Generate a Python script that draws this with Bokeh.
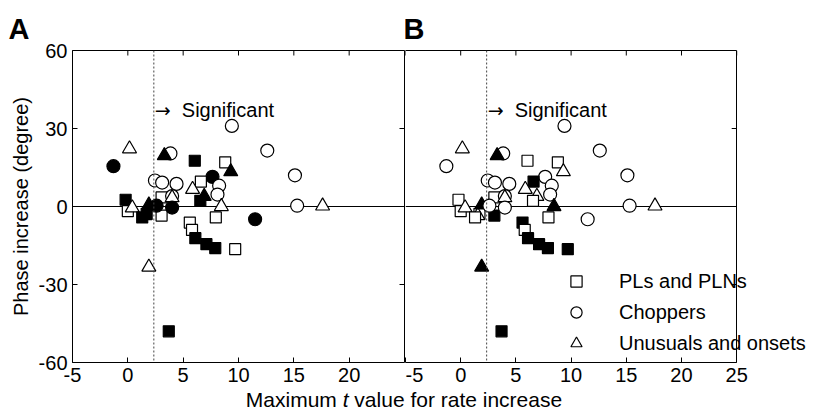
import math
from bokeh.plotting import figure
from bokeh.models import (ColumnDataSource, Span, Label, LinearAxis, FixedTicker,
                          Legend, LegendItem, Range1d, Title, Div)
from bokeh.layouts import column, row
from bokeh.embed import file_html
from bokeh.resources import INLINE

# ---------------- data ----------------
# cell class: s = PLs and PLNs, c = Choppers, t = Unusuals and onsets
cell_class = ["c", "c", "c", "c", "t", "c", "t", "c", "t", "s",
              "s", "t", "c", "c", "s", "c", "c", "c", "t", "t",
              "s", "c", "t", "s", "c", "s", "s", "s", "s", "s",
              "s", "t", "s", "s", "s", "t", "s", "c", "t", "s",
              "s", "t", "s", "t", "c", "c"]
t_max = [9.4, 12.6, 15.1, 15.3, 17.6, -1.3, 0.15, 3.85, 3.3, 6.05,
         8.8, 9.3, 7.65, 8.25, 6.6, 2.45, 3.1, 4.4, 5.85, 6.9,
         6.55, 8.1, 8.45, 7.95, 11.5, 5.6, 5.8, 6.1, 7.1, 7.9,
         9.7, 1.9, 3.7, -0.2, 0.0, 0.4, 3.05, 4.0, 4.0, 3.05,
         1.7, 1.55, 1.3, 1.9, 2.6, 4.0]
phase_inc = [31.0, 21.5, 12.0, 0.3, 0.2, 15.5, 22.2, 20.4, 19.6, 17.6,
             17.0, 13.4, 11.4, 8.0, 9.6, 10.0, 9.2, 8.7, 6.6, 3.9,
             2.2, 4.6, 0.0, -4.2, -4.9, -6.2, -9.0, -12.2, -14.5, -16.0,
             -16.4, -23.3, -48.0, 2.6, -1.8, -0.5, 3.5, 4.0, 3.4, -3.5,
             -2.8, -3.5, -4.2, 0.6, 0.3, -0.4]
filled_a = [0, 0, 0, 0, 0, 1, 0, 0, 1, 1,
            0, 1, 1, 0, 0, 0, 0, 0, 0, 1,
            1, 0, 0, 0, 1, 0, 0, 1, 1, 1,
            0, 0, 1, 1, 0, 0, 0, 0, 0, 0,
            1, 1, 1, 1, 1, 1]
filled_b = [0, 0, 0, 0, 0, 0, 0, 0, 1, 0,
            0, 0, 0, 0, 1, 0, 0, 0, 0, 0,
            0, 0, 1, 0, 0, 1, 0, 1, 1, 1,
            1, 1, 1, 0, 0, 0, 0, 0, 0, 1,
            0, 0, 0, 1, 0, 0]
legend_labels = ["PLs and PLNs", "Choppers", "Unusuals and onsets"]
x_ticks = [-5, 0, 5, 10, 15, 20, 25]
y_ticks = [-60, -30, 0, 30, 60]
t_significant = 2.35

FONT = "Liberation Sans"
MARKER = {"s": "square", "c": "circle", "t": "triangle"}
SIZE = {"s": 11, "c": 13, "t": 14}
X0, X1 = x_ticks[0], x_ticks[-1]
Y0, Y1 = y_ticks[0], y_ticks[-1]
PX_PER_UNIT = 332 / (X1 - X0)          # frame width of one panel / data span
EXTRA_B_PX = 814 - 405 - 331           # room to the right of panel B for the legend text
TICK = 5


def label_axis(ticks):
    ax = LinearAxis(ticker=FixedTicker(ticks=ticks, minor_ticks=[]),
                    major_tick_in=TICK, major_tick_out=0,
                    minor_tick_in=0, minor_tick_out=0,
                    axis_line_color="black", major_tick_line_color="black",
                    axis_line_width=1,
                    major_label_overrides={t: str(t) for t in ticks},
                    major_label_text_font=FONT, major_label_text_font_size="20px",
                    major_label_text_color="black", major_label_standoff=5)
    return ax


def line_axis(bounds=None, fixed=None):
    ax = LinearAxis(ticker=FixedTicker(ticks=[], minor_ticks=[]),
                    major_tick_in=0, major_tick_out=0,
                    minor_tick_in=0, minor_tick_out=0,
                    major_label_standoff=0,
                    axis_line_color="black", axis_line_width=1)
    if bounds is not None:
        ax.bounds = bounds
    if fixed is not None:
        ax.fixed_location = fixed
    return ax


def make_panel(filled, width, border_left, border_right, is_a, letter, letter_offset):
    x_end = X1 if is_a else X1 + EXTRA_B_PX / PX_PER_UNIT
    p = figure(width=width, height=393,
               x_range=Range1d(X0, x_end), y_range=Range1d(Y0, Y1),
               x_axis_type=None, y_axis_type=None,
               output_backend="svg", toolbar_location=None,
               min_border_left=border_left, min_border_right=border_right,
               min_border_top=50, min_border_bottom=31)
    p.outline_line_color = None
    p.background_fill_color = "white"
    p.border_fill_color = "white"

    bottom = label_axis(x_ticks[:-1] if is_a else x_ticks)
    bottom.bounds = (X0, X1)
    p.add_layout(bottom, "below")
    p.add_layout(line_axis(bounds=(X0, X1)), "above")
    if is_a:
        left = label_axis(y_ticks)
        left.axis_label = "Phase increase (degree)"
        left.axis_label_text_font = FONT
        left.axis_label_text_font_size = "20px"
        left.axis_label_text_font_style = "normal"
        left.axis_label_text_color = "black"
        left.axis_label_standoff = 4
        p.add_layout(left, "left")
        p.add_layout(line_axis(), "right")
    else:
        p.add_layout(line_axis(fixed=X1), "right")

    # inward tick marks on the top and right edges
    p.ray(x=x_ticks, y=[Y1] * len(x_ticks), length=TICK, length_units="screen",
          angle=-math.pi / 2, line_color="black", line_width=1)
    p.ray(x=[X1] * len(y_ticks), y=y_ticks, length=TICK, length_units="screen",
          angle=math.pi, line_color="black", line_width=1)

    p.title = Title(text=letter, align="left", offset=letter_offset,
                    text_font=FONT, text_font_size="29px", text_font_style="bold",
                    text_color="black", standoff=12)

    p.segment(x0=[X0], x1=[X1], y0=[0], y1=[0], line_color="black", line_width=1)
    p.add_layout(Span(location=t_significant, dimension="height", line_color="#444444",
                      line_width=1, line_dash="2 2"))

    src = ColumnDataSource(dict(
        x=t_max, y=phase_inc,
        marker=[MARKER[k] for k in cell_class],
        size=[SIZE[k] for k in cell_class],
        fill=["black" if f else "white" for f in filled],
    ))
    r = p.scatter("x", "y", source=src, marker="marker", size="size",
                  fill_color="fill", line_color="black", line_width=1.2)

    p.add_layout(Label(x=t_significant, y=37, x_offset=1, text="\u2192",
                       text_font="DejaVu Sans", text_font_size="19px", text_color="black",
                       text_baseline="alphabetic"))
    p.add_layout(Label(x=t_significant, y=37, x_offset=28, text="Significant",
                       text_font=FONT, text_font_size="20px", text_color="black",
                       text_baseline="alphabetic"))
    return p, r


pA, rA = make_panel(filled_a, 405, 72, 1, True, "A", -64)
pB, rB = make_panel(filled_b, 409, 0, 0, False, "B", -2)

idx = {}
for i, (k, f) in enumerate(zip(cell_class, filled_b)):
    if not f and k not in idx:
        idx[k] = i
legend = Legend(items=[
    LegendItem(label=legend_labels[0], renderers=[rB], index=idx["s"]),
    LegendItem(label=legend_labels[1], renderers=[rB], index=idx["c"]),
    LegendItem(label=legend_labels[2], renderers=[rB], index=idx["t"]),
], location=(157, 5), padding=0, margin=0, spacing=3,
    glyph_width=28, glyph_height=28, label_height=28, label_standoff=29,
    label_text_font=FONT, label_text_font_size="20px", label_text_color="black",
    border_line_color=None, background_fill_alpha=0)
pB.add_layout(legend)

x_title = Div(text='Maximum <i>t</i> value for rate increase', width=808, height=21,
              margin=(0, 6, 0, 0),
              styles={"font-family": FONT, "font-size": "21px", "text-align": "center",
                      "line-height": "14px", "color": "black"})

layout = column(row(pA, pB), x_title)
open("out.html", "w").write(file_html(layout, INLINE))
